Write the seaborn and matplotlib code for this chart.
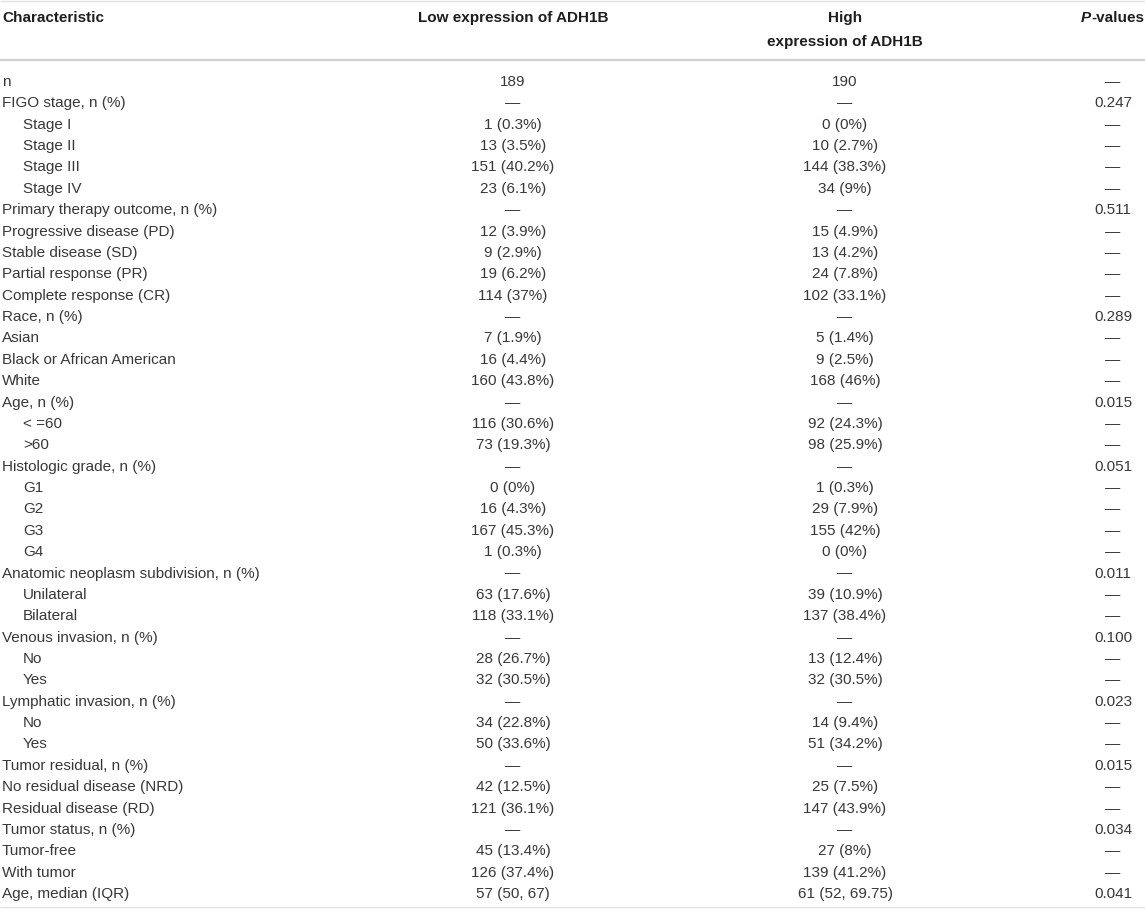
import matplotlib
matplotlib.use("Agg")
import matplotlib.pyplot as plt
import seaborn as sns

# ---- table content ----
header_char = "Characteristic"
header_low = "Low expression of ADH1B"
header_high = ["High", "expression of ADH1B"]
header_p_italic = "P"
header_p_rest = "-values"

characteristics = [
    "n", "FIGO stage, n (%)", "Stage I", "Stage II", "Stage III", "Stage IV",
    "Primary therapy outcome, n (%)", "Progressive disease (PD)", "Stable disease (SD)",
    "Partial response (PR)", "Complete response (CR)",
    "Race, n (%)", "Asian", "Black or African American", "White",
    "Age, n (%)", "< =60", ">60",
    "Histologic grade, n (%)", "G1", "G2", "G3", "G4",
    "Anatomic neoplasm subdivision, n (%)", "Unilateral", "Bilateral",
    "Venous invasion, n (%)", "No", "Yes",
    "Lymphatic invasion, n (%)", "No", "Yes",
    "Tumor residual, n (%)", "No residual disease (NRD)", "Residual disease (RD)",
    "Tumor status, n (%)", "Tumor-free", "With tumor",
    "Age, median (IQR)",
]
indented = [
    0, 0, 1, 1, 1, 1,
    0, 0, 0, 0, 0,
    0, 0, 0, 0,
    0, 1, 1,
    0, 1, 1, 1, 1,
    0, 1, 1,
    0, 1, 1,
    0, 1, 1,
    0, 0, 0,
    0, 0, 0,
    0,
]
D = "\u2014"
low_expr = [
    "189", D, "1 (0.3%)", "13 (3.5%)", "151 (40.2%)", "23 (6.1%)",
    D, "12 (3.9%)", "9 (2.9%)", "19 (6.2%)", "114 (37%)",
    D, "7 (1.9%)", "16 (4.4%)", "160 (43.8%)",
    D, "116 (30.6%)", "73 (19.3%)",
    D, "0 (0%)", "16 (4.3%)", "167 (45.3%)", "1 (0.3%)",
    D, "63 (17.6%)", "118 (33.1%)",
    D, "28 (26.7%)", "32 (30.5%)",
    D, "34 (22.8%)", "50 (33.6%)",
    D, "42 (12.5%)", "121 (36.1%)",
    D, "45 (13.4%)", "126 (37.4%)",
    "57 (50, 67)",
]
high_expr = [
    "190", D, "0 (0%)", "10 (2.7%)", "144 (38.3%)", "34 (9%)",
    D, "15 (4.9%)", "13 (4.2%)", "24 (7.8%)", "102 (33.1%)",
    D, "5 (1.4%)", "9 (2.5%)", "168 (46%)",
    D, "92 (24.3%)", "98 (25.9%)",
    D, "1 (0.3%)", "29 (7.9%)", "155 (42%)", "0 (0%)",
    D, "39 (10.9%)", "137 (38.4%)",
    D, "13 (12.4%)", "32 (30.5%)",
    D, "14 (9.4%)", "51 (34.2%)",
    D, "25 (7.5%)", "147 (43.9%)",
    D, "27 (8%)", "139 (41.2%)",
    "61 (52, 69.75)",
]
p_values = [
    D, "0.247", D, D, D, D,
    "0.511", D, D, D, D,
    "0.289", D, D, D,
    "0.015", D, D,
    "0.051", D, D, D, D,
    "0.011", D, D,
    "0.100", D, D,
    "0.023", D, D,
    "0.015", D, D,
    "0.034", D, D,
    "0.041",
]

# ---- style ----
sns.set_theme(style="white")
plt.rcParams["font.family"] = ["Liberation Sans", "DejaVu Sans"]

W, H = 1145, 914
fig = plt.figure(figsize=(W / 100, H / 100), dpi=100)
ax = fig.add_axes([0, 0, 1, 1])
ax.set_xlim(0, W)
ax.set_ylim(H, 0)
ax.axis("off")

FS = 11
body_c = "#383838"
head_c = "#1e1e1e"
rule_c = "#cfcfcf"

x_char = 2
x_indent = 23
x_low = 513
x_high = 845
x_p = 1113

# rules
ax.plot([0, W], [1, 1], color="#e3e3e3", lw=1.0, solid_capstyle="butt")
ax.plot([0, W], [60, 60], color=rule_c, lw=1.6, solid_capstyle="butt")
ax.plot([0, W], [907, 907], color="#e3e3e3", lw=1.0, solid_capstyle="butt")

# header
ax.text(x_char, 18, header_char, fontsize=FS, fontweight="bold", color=head_c,
        ha="left", va="center")
ax.text(x_low, 18, header_low, fontsize=FS, fontweight="bold", color=head_c,
        ha="center", va="center")
ax.text(x_high, 18, header_high[0], fontsize=FS, fontweight="bold", color=head_c,
        ha="center", va="center")
ax.text(x_high, 42, header_high[1], fontsize=FS, fontweight="bold", color=head_c,
        ha="center", va="center")
p_join = 1091
ax.text(p_join, 18, header_p_italic, fontsize=FS, fontweight="bold", fontstyle="italic",
        color=head_c, ha="right", va="center")
ax.text(p_join, 18, header_p_rest, fontsize=FS, fontweight="bold", color=head_c,
        ha="left", va="center")

# body
y0, dy = 82, 21.37
for i, (c, ind, lo, hi, p) in enumerate(zip(characteristics, indented, low_expr, high_expr, p_values)):
    y = y0 + i * dy
    ax.text(x_indent if ind else x_char, y, c, fontsize=FS, color=body_c, ha="left", va="center")
    ax.text(x_low, y, lo, fontsize=FS, color=body_c, ha="center", va="center")
    ax.text(x_high, y, hi, fontsize=FS, color=body_c, ha="center", va="center")
    ax.text(x_p, y, p, fontsize=FS, color=body_c, ha="center", va="center")

fig.savefig("out.png", dpi=100, facecolor="white")
